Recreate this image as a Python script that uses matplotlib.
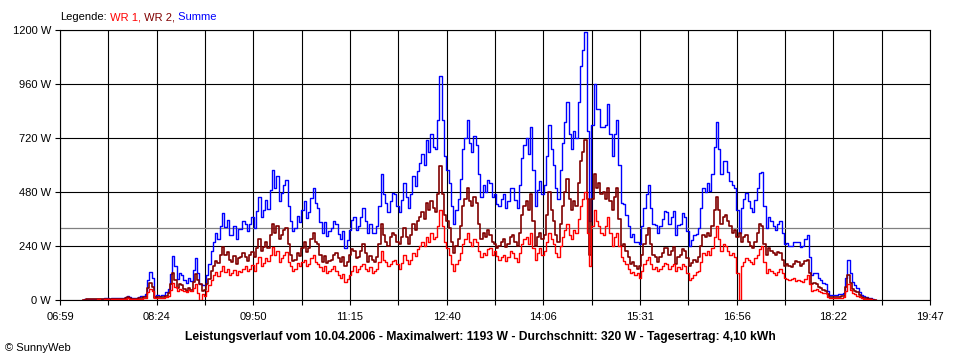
import numpy as np
import matplotlib
matplotlib.use("Agg")
import matplotlib.pyplot as plt

plt.rcParams['font.family'] = ['Liberation Sans', 'DejaVu Sans']

# time axis: minutes after 06:59, samples every 2 minutes starting at 07:19
start_min = 20
step_min = 2

wr1 = [0, 1, 2, 2, 2, 2, 2, 3, 2, 2, 3, 3, 2, 3, 3, 3, 3, 4, 4, 6,
       8, 6, 4, 4, 4, 5, 6, 8, 10, 35, 50, 40, 8, 10, 8, 9, 10, 14, 20, 45,
       75, 60, 40, 50, 45, 40, 35, 45, 40, 55, 70, 30, 0, 25, 20, 40, 65, 90, 110, 125,
       105, 130, 150, 125, 140, 110, 120, 135, 110, 130, 125, 140, 150, 130, 140, 155, 130, 165, 190, 150,
       165, 185, 175, 200, 237, 200, 220, 170, 185, 200, 215, 170, 150, 130, 140, 165, 150, 170, 180, 150,
       160, 185, 200, 170, 160, 145, 130, 150, 120, 130, 140, 150, 130, 110, 100, 115, 80, 95, 110, 130,
       150, 125, 140, 150, 160, 140, 130, 145, 120, 130, 140, 170, 220, 180, 170, 150, 160, 175, 180, 160,
       140, 165, 200, 180, 160, 180, 210, 195, 225, 240, 260, 240, 280, 260, 300, 270, 280, 330, 400, 330,
       260, 230, 200, 160, 130, 160, 180, 210, 250, 270, 300, 260, 240, 270, 260, 220, 190, 210, 200, 225,
       230, 200, 220, 195, 180, 190, 200, 175, 190, 220, 210, 185, 170, 210, 250, 270, 280, 250, 300, 230,
       180, 210, 230, 200, 220, 260, 300, 270, 250, 210, 190, 240, 280, 310, 340, 290, 270, 310, 300, 360,
       420, 450, 480, 300, 150, 330, 400, 350, 330, 300, 290, 330, 370, 300, 240, 280, 300, 240, 190, 175,
       160, 140, 120, 125, 110, 120, 100, 130, 160, 180, 190, 160, 140, 145, 130, 140, 150, 165, 160, 140,
       150, 160, 130, 145, 140, 160, 150, 120, 90, 100, 110, 125, 130, 170, 210, 200, 220, 200, 230, 280,
       330, 270, 220, 250, 240, 220, 200, 210, 190, 120, 0, 150, 170, 185, 180, 170, 160, 185, 200, 225,
       240, 170, 120, 140, 130, 120, 110, 125, 140, 120, 100, 95, 90, 95, 100, 85, 90, 85, 80, 95,
       110, 70, 40, 45, 50, 40, 35, 32, 30, 15, 8, 8, 8, 9, 10, 11, 12, 40, 70, 45,
       30, 25, 20, 12, 8, 6, 5, 4, 3, 1, 0]

wr2 = [0, 2, 3, 3, 3, 4, 4, 3, 3, 4, 4, 5, 4, 4, 4, 5, 5, 6, 6, 9,
       12, 9, 6, 6, 6, 8, 10, 12, 15, 55, 76, 60, 10, 14, 12, 13, 14, 20, 30, 70,
       120, 90, 55, 70, 65, 50, 40, 55, 45, 80, 115, 90, 70, 40, 45, 70, 95, 130, 150, 175,
       165, 200, 235, 200, 215, 180, 170, 195, 160, 185, 190, 210, 190, 175, 200, 215, 190, 230, 270, 220,
       235, 260, 230, 290, 340, 300, 330, 270, 290, 310, 320, 250, 200, 175, 180, 210, 195, 230, 260, 215,
       230, 270, 300, 260, 250, 200, 170, 195, 165, 175, 180, 200, 210, 185, 170, 190, 150, 170, 200, 225,
       220, 185, 190, 220, 250, 210, 170, 195, 180, 170, 190, 250, 340, 290, 260, 240, 280, 300, 290, 260,
       250, 280, 320, 280, 250, 290, 340, 310, 350, 370, 390, 360, 430, 400, 440, 410, 390, 470, 595, 470,
       380, 350, 320, 260, 210, 240, 270, 330, 420, 450, 500, 440, 420, 460, 430, 340, 270, 300, 280, 310,
       290, 260, 250, 230, 240, 260, 270, 235, 250, 280, 290, 260, 240, 300, 380, 420, 440, 400, 470, 350,
       240, 280, 300, 270, 290, 380, 480, 400, 350, 290, 260, 340, 420, 480, 540, 450, 400, 440, 420, 520,
       620, 660, 710, 450, 200, 450, 560, 500, 520, 470, 480, 450, 500, 440, 400, 460, 500, 360, 240, 250,
       220, 190, 160, 170, 150, 140, 150, 200, 250, 290, 320, 250, 200, 190, 170, 190, 210, 230, 230, 200,
       220, 235, 160, 190, 200, 225, 220, 185, 150, 165, 180, 170, 190, 240, 290, 280, 300, 285, 330, 400,
       460, 400, 340, 370, 380, 350, 330, 300, 310, 280, 300, 260, 280, 290, 260, 240, 230, 260, 300, 340,
       330, 250, 200, 230, 220, 210, 200, 215, 210, 180, 150, 160, 150, 145, 160, 175, 170, 150, 160, 175,
       180, 120, 70, 75, 70, 60, 55, 45, 40, 25, 15, 14, 14, 15, 15, 16, 18, 60, 110, 75,
       50, 40, 35, 22, 15, 10, 8, 6, 5, 2, 0]

x_labels = ["06:59", "08:24", "09:50", "11:15", "12:40", "14:06", "15:31", "16:56", "18:22", "19:47"]
y_ticks = [0, 240, 480, 720, 960, 1200]
average_w = 320
title = ("Leistungsverlauf vom 10.04.2006 - Maximalwert: 1193 W - Durchschnitt: 320 W - "
         "Tagesertrag: 4,10 kWh")

wr1 = np.array(wr1, dtype=float)
wr2 = np.array(wr2, dtype=float)
summe = wr1 + wr2
t = start_min + step_min * np.arange(len(wr1))

fig = plt.figure(figsize=(9.6, 3.6), dpi=100, facecolor='white')
ax = fig.add_axes([60/960, 60/360, 870/960, 270/360])
total = 768.0
ax.set_xlim(0, total)
ax.set_ylim(0, 1200)

# grid
grid_x = np.linspace(0, total, 19)
for gx in grid_x:
    ax.axvline(gx, color='black', lw=0.8, zorder=1)
for gy in y_ticks:
    ax.axhline(gy, color='black', lw=0.8, zorder=1)
ax.axhline(average_w, color='#808080', lw=0.9, zorder=1.5)

ax.plot(t, summe, color='#0000ff', lw=1.0, drawstyle='steps-mid', zorder=2)
ax.plot(t, wr2, color='#800000', lw=1.2, drawstyle='steps-mid', zorder=3)
ax.plot(t, wr1, color='#ff0000', lw=1.0, drawstyle='steps-mid', zorder=4)

ax.set_xticks(grid_x)
ax.set_xticklabels([x_labels[i // 2] if i % 2 == 0 else "" for i in range(len(grid_x))])
ax.set_yticks(y_ticks)
ax.set_yticklabels([f"{v} W" for v in y_ticks])
ax.tick_params(axis='both', direction='out', length=3.5, width=0.8, color='black',
               labelsize=8, pad=3)
ax.tick_params(axis='x', pad=5)
for s in ax.spines.values():
    s.set_color('black')
    s.set_linewidth(0.8)

fig.text(480/960, 1 - 337/360, title, ha='center', va='center', fontsize=8.7, fontweight='bold')
fig.text(5/960, 1 - 348/360, "\u00a9 SunnyWeb", ha='left', va='center', fontsize=8)

t0 = fig.text(60/960, 1 - 17/360, "Legende:", ha='left', va='center', fontsize=8, color='black')
t1 = ax.annotate(" WR 1,", xy=(1, 0), xycoords=t0, ha='left', va='bottom', fontsize=8,
                 color='#ff0000', annotation_clip=False)
t2 = ax.annotate(" WR 2,", xy=(1, 0), xycoords=t1, ha='left', va='bottom', fontsize=8,
                 color='#800000', annotation_clip=False)
t3 = ax.annotate(" Summe", xy=(1, 0), xycoords=t2, ha='left', va='bottom', fontsize=8,
                 color='#0000ff', annotation_clip=False)

fig.savefig("out.png", dpi=100, facecolor='white')
